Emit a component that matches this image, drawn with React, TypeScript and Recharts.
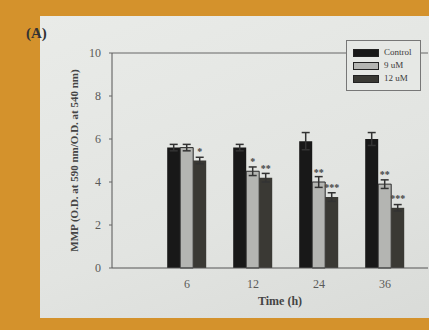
import {
  BarChart,
  Bar,
  XAxis,
  YAxis,
  ErrorBar,
  LabelList,
  Label,
} from "recharts";

const TIMES = ["6", "12", "24", "36"];
const CONTROL = [5.6, 5.6, 5.9, 6.0];
const NINE_UM = [5.6, 4.5, 4.0, 3.9];
const TWELVE_UM = [5.0, 4.2, 3.3, 2.8];
const CONTROL_ERR = [0.15, 0.15, 0.4, 0.3];
const NINE_ERR = [0.15, 0.2, 0.25, 0.2];
const TWELVE_ERR = [0.15, 0.2, 0.2, 0.15];
const NINE_SIG = ["", "*", "**", "**"];
const TWELVE_SIG = ["*", "**", "***", "***"];
const Y_TICKS = [0, 2, 4, 6, 8, 10];

const SERIES = [
  { key: "control", name: "Control", fill: "#181818" },
  { key: "nine", name: "9 uM", fill: "#b4b5b2" },
  { key: "twelve", name: "12 uM", fill: "#3a3934" },
];

const data = TIMES.map((t, i) => ({
  time: t,
  control: CONTROL[i],
  nine: NINE_UM[i],
  twelve: TWELVE_UM[i],
  controlErr: CONTROL_ERR[i],
  nineErr: NINE_ERR[i],
  twelveErr: TWELVE_ERR[i],
  nineSig: NINE_SIG[i],
  twelveSig: TWELVE_SIG[i],
}));

const FONT = '"Liberation Serif", "DejaVu Serif", serif';
const TEXT = "#5a5a58";
const sigStyle = { fill: "#444", fontFamily: FONT, fontSize: 10, fontWeight: "bold" };

function LegendBox() {
  return (
    <div
      style={{
        position: "absolute",
        left: 346,
        top: 40,
        border: "1px solid #777",
        background: "#e6e8e5",
        padding: "5px 8px 5px 6px",
        fontFamily: FONT,
        fontSize: 9,
        color: "#3a3a3a",
        lineHeight: "13px",
      }}
    >
      {SERIES.map((s) => (
        <div key={s.key} style={{ display: "flex", alignItems: "center" }}>
          <span
            style={{
              display: "inline-block",
              width: 24,
              height: 6,
              background: s.fill,
              border: "1px solid #222",
              marginRight: 5,
            }}
          />
          {s.name}
        </div>
      ))}
    </div>
  );
}

export default function App() {
  return (
    <div
      style={{
        position: "absolute",
        left: 0,
        top: 0,
        width: 429,
        height: 330,
        background: "#d4922c",
        overflow: "hidden",
      }}
    >
      <div
        style={{
          position: "absolute",
          left: 40,
          top: 16,
          width: 400,
          height: 302,
          background: "linear-gradient(160deg, #e9ebe8 0%, #e2e4e1 60%, #d9dbd8 100%)",
        }}
      />
      <div
        style={{
          position: "absolute",
          left: 26,
          top: 25,
          fontFamily: FONT,
          fontWeight: "bold",
          fontSize: 15,
          color: "#333",
        }}
      >
        (A)
      </div>
      <div style={{ position: "absolute", left: 0, top: 0 }}>
        <BarChart
          width={429}
          height={330}
          data={data}
          margin={{ top: 52, right: 1, left: 52, bottom: 32 }}
          barCategoryGap="20%"
          barGap={0}
        >
          <XAxis
            xAxisId="top"
            orientation="top"
            dataKey="time"
            tick={false}
            tickLine={false}
            axisLine={{ stroke: "#666" }}
            height={1}
            padding={{ left: 42, right: 10 }}
          />
          <XAxis
            dataKey="time"
            tickLine={false}
            axisLine={{ stroke: "#555" }}
            tick={{ fill: TEXT, fontFamily: FONT, fontSize: 12 }}
            tickMargin={5}
            height={30}
            padding={{ left: 42, right: 10 }}
          />
          <YAxis
            width={60}
            domain={[0, 10]}
            ticks={Y_TICKS}
            tickLine={{ stroke: "#666" }}
            tickSize={3}
            tickMargin={8}
            axisLine={{ stroke: "#555" }}
            tick={{ fill: TEXT, fontFamily: FONT, fontSize: 12 }}
          >
            <Label
              value="MMP (O.D. at 590 nm/O.D. at 540 nm)"
              angle={-90}
              position="insideLeft"
              offset={22}
              style={{
                textAnchor: "middle",
                fill: "#444",
                fontFamily: FONT,
                fontWeight: "bold",
                fontSize: 11,
              }}
            />
          </YAxis>
          <Bar dataKey="control" name="Control" fill={SERIES[0].fill} isAnimationActive={false}>
            <ErrorBar dataKey="controlErr" width={4} stroke="#333" direction="y" />
          </Bar>
          <Bar
            dataKey="nine"
            name="9 uM"
            fill={SERIES[1].fill}
            stroke="#2a2a2a"
            strokeWidth={1}
            isAnimationActive={false}
          >
            <ErrorBar dataKey="nineErr" width={4} stroke="#333" direction="y" />
            <LabelList dataKey="nineSig" position="top" offset={6} style={sigStyle} />
          </Bar>
          <Bar dataKey="twelve" name="12 uM" fill={SERIES[2].fill} isAnimationActive={false}>
            <ErrorBar dataKey="twelveErr" width={4} stroke="#333" direction="y" />
            <LabelList dataKey="twelveSig" position="top" offset={6} style={sigStyle} />
          </Bar>
        </BarChart>
      </div>
      <LegendBox />
      <div
        style={{
          position: "absolute",
          left: 258,
          top: 294,
          fontFamily: FONT,
          fontWeight: "bold",
          fontSize: 12,
          color: "#444",
        }}
      >
        Time (h)
      </div>
    </div>
  );
}
